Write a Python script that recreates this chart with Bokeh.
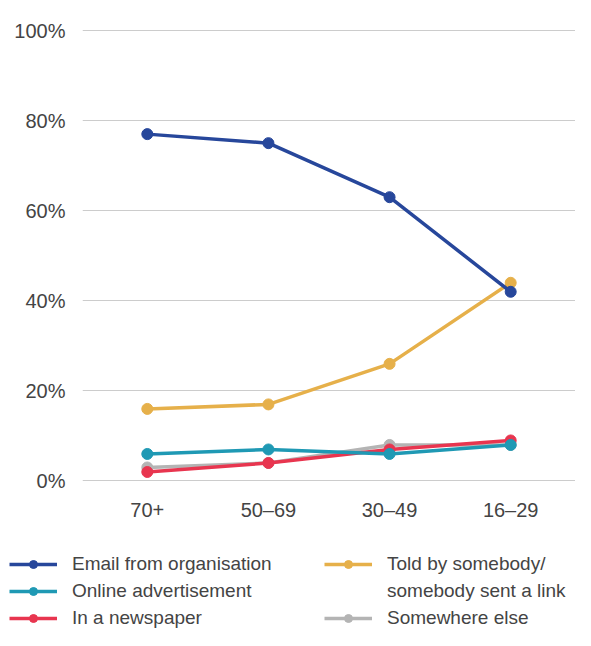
from bokeh.plotting import figure
from bokeh.models import FactorRange, Range1d, Legend, LegendItem, FixedTicker
from bokeh.layouts import column
from bokeh.embed import file_html
from bokeh.resources import INLINE

# ---- data ----
age_groups = ["70+", "50–69", "30–49", "16–29"]
email_org = [77, 75, 63, 42]
told_by = [16, 17, 26, 44]
online_ad = [6, 7, 6, 8]
newspaper = [2, 4, 7, 9]
somewhere_else = [3, 4, 8, 8]
y_ticks = [0, 20, 40, 60, 80, 100]

FONT = "Liberation Sans"
TXT = "#444444"

series = [
    ("Somewhere else", somewhere_else, "#b4b4b4"),
    ("In a newspaper", newspaper, "#e8354f"),
    ("Online advertisement", online_ad, "#1f99b4"),
    ("Told by somebody/", told_by, "#e6b04a"),
    ("Email from organisation", email_org, "#27479b"),
]

# ---- main chart ----
p = figure(width=575, height=536, output_backend="svg", toolbar_location=None,
           x_range=FactorRange(factors=age_groups, range_padding=0.0175, range_padding_units="percent"),
           y_range=Range1d(-1, 102),
           min_border_left=82, min_border_right=0, min_border_top=21, min_border_bottom=51)
p.frame_align = False
p.outline_line_color = None
p.xgrid.grid_line_color = None
p.ygrid.grid_line_color = "#cccccc"
p.ygrid.grid_line_width = 1.2
p.yaxis.ticker = FixedTicker(ticks=y_ticks)
p.yaxis.major_label_overrides = {t: f"{t}%" for t in y_ticks}

for ax in (p.xaxis[0], p.yaxis[0]):
    ax.axis_line_color = None
    ax.major_tick_line_color = None
    ax.minor_tick_line_color = None
    ax.major_tick_out = 0
    ax.major_tick_in = 0
    ax.major_label_text_font = FONT
    ax.major_label_text_font_size = "20px"
    ax.major_label_text_color = TXT
p.yaxis.major_label_standoff = 17
p.xaxis.major_label_standoff = 13

for name, vals, col in series:
    p.line(age_groups, vals, line_color=col, line_width=3.5)
    p.scatter(age_groups, vals, size=11, fill_color=col, line_color=col)

# ---- legend panel ----
q = figure(width=575, height=94, output_backend="svg", toolbar_location=None,
           x_range=FactorRange(factors=age_groups), y_range=Range1d(0, 100),
           x_axis_location=None, y_axis_location=None,
           min_border=0)
q.frame_align = False
q.outline_line_color = None
q.grid.visible = False

rends = {}
for name, vals, col in series:
    l = q.line(age_groups, vals, line_color=col, line_width=3.5, visible=False)
    s = q.scatter(age_groups, vals, size=11, fill_color=col, line_color=col, visible=False)
    rends[name] = [l, s]
cont = q.line(age_groups, told_by, line_alpha=0, visible=False)

items = [
    LegendItem(label="Email from organisation", renderers=rends["Email from organisation"]),
    LegendItem(label="Online advertisement", renderers=rends["Online advertisement"]),
    LegendItem(label="In a newspaper", renderers=rends["In a newspaper"]),
    LegendItem(label="Told by somebody/", renderers=rends["Told by somebody/"]),
    LegendItem(label="somebody sent a link", renderers=[cont]),
    LegendItem(label="Somewhere else", renderers=rends["Somewhere else"]),
]
legend = Legend(items=items, ncols=2, location=(9, 1),
                padding=0, margin=0, spacing=5,
                glyph_width=48, glyph_height=20, label_height=20,
                label_standoff=15, label_width=247,
                label_text_font=FONT, label_text_font_size="19px",
                label_text_color=TXT,
                border_line_color=None, background_fill_alpha=0)
q.add_layout(legend, "center")

layout = column(p, q, spacing=0)
open("out.html", "w").write(file_html(layout, INLINE))
